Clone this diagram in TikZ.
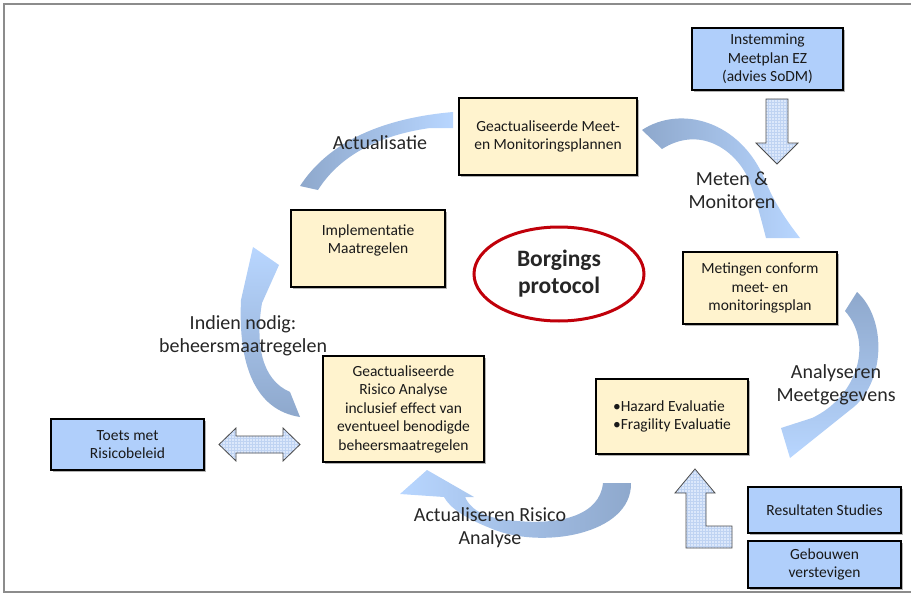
\documentclass[tikz,border=0pt]{standalone}
\usepackage{fontspec}
\setmainfont{Carlito}
\usepackage{tikz}
\usetikzlibrary{shapes}
\usetikzlibrary{shapes.geometric}
\usetikzlibrary{shadows}
\usetikzlibrary{patterns}

\definecolor{boxyellow}{HTML}{FFF3CE}
\definecolor{boxblue}{HTML}{B0CFFB}
\definecolor{arrowdark}{HTML}{8EA8CC}
\definecolor{arrowlight}{HTML}{B8D6FF}
\definecolor{blockfill}{HTML}{DCE8FB}
\definecolor{blockgrid}{HTML}{BFD3F2}
\definecolor{borgred}{HTML}{C0000A}
\definecolor{framegray}{HTML}{8C8C8C}

\tikzset{
  box/.style={draw, line width=2.6pt, align=center, inner sep=0pt,
    font=\fontsize{15.5}{18.5}\selectfont, text=black!90,
    drop shadow={shadow xshift=2pt, shadow yshift=-2pt, opacity=.6, fill=black!50}},
  yellowbox/.style={box, fill=boxyellow},
  bluebox/.style={box, fill=boxblue},
  steplabel/.style={align=center, text=black!85, font=\fontsize{20}{23}\selectfont},
  blockarrow/.style={draw=black!70, line width=0.8pt, preaction={fill=blockfill},
    pattern=grid, pattern color=blockgrid}
}

\begin{document}
\begin{tikzpicture}[x=1pt, y=-1pt]
\useasboundingbox (0,0) rectangle (911,594);
\draw[framegray, line width=2pt] (912,4) -- (4,4) -- (4,592) -- (912,592);

\shade[left color=arrowdark, right color=arrowlight]
  (300,186) .. controls (330,140) and (385,118) .. (453,112) -- (453,128) -- (430,128)
  .. controls (380,135) and (340,155) .. (318,190) -- cycle;
\shade[left color=arrowdark, right color=arrowlight]
  (642,130) .. controls (680,105) and (740,120) .. (765,180)
  .. controls (775,205) and (790,225) .. (800,238) -- (766,238)
  .. controls (760,215) and (755,195) .. (748,178)
  .. controls (735,150) and (700,125) .. (662,149) -- cycle;
\shade[top color=arrowdark, bottom color=arrowlight]
  (857,292) .. controls (888,320) and (885,385) .. (850,410) -- (790,458) -- (781,428)
  -- (812,418) .. controls (855,398) and (875,345) .. (845,311) -- cycle;
\shade[left color=arrowlight, right color=arrowdark]
  (631,483) .. controls (632,535) and (540,550) .. (490,528)
  .. controls (465,518) and (450,508) .. (444,497) -- (400,494) -- (427,470) -- (474,497)
  -- (465,497) .. controls (470,508) and (480,515) .. (500,519)
  .. controls (560,528) and (600,515) .. (603,483) -- cycle;
\shade[top color=arrowlight, bottom color=arrowdark]
  (300,417) .. controls (255,410) and (238,365) .. (241,300) -- (253,247) -- (279,265)
  -- (262,303) .. controls (255,345) and (262,380) .. (290,392) -- cycle;

\node[bluebox, minimum width=151, minimum height=62] (EZ) at (767.5,59)
  {Instemming\\Meetplan EZ\\(advies SoDM)};
\node[yellowbox, minimum width=178, minimum height=77] (Plan) at (548,136.5)
  {Geactualiseerde Meet-\\en Monitoringsplannen};
\node[yellowbox, minimum width=154, minimum height=77] (Impl) at (368,248.5)
  {Implementatie\\Maatregelen\\\mbox{}};
\node[ellipse, draw=borgred, line width=3pt, minimum width=170, minimum height=94,
  align=center, font=\fontsize{23.5}{27}\selectfont\bfseries, text=black!85] (Borg) at (559,274)
  {Borgings\\protocol};
\node[yellowbox, minimum width=154, minimum height=72] (Meting) at (760,288)
  {Metingen conform\\meet- en\\monitoringsplan};
\node[yellowbox, minimum width=152, minimum height=75, align=left] (Eval) at (672,416.5)
  {•Hazard Evaluatie\\•Fragility Evaluatie};
\node[yellowbox, minimum width=161, minimum height=106] (Risico) at (403.5,409)
  {Geactualiseerde\\Risico Analyse\\inclusief effect van\\eventueel benodigde\\beheersmaatregelen};
\node[bluebox, minimum width=153, minimum height=51] (Toets) at (127.5,444.5)
  {Toets met\\Risicobeleid};
\node[bluebox, minimum width=153, minimum height=46] (Studies) at (824.5,510)
  {Resultaten Studies};
\node[bluebox, minimum width=153, minimum height=47] (Gebouw) at (824.5,564.5)
  {Gebouwen\\verstevigen};

\draw[blockarrow] (766,99) -- (788,99) -- (788,143) -- (798,143) -- (777,164)
  -- (756,143) -- (766,143) -- cycle;
\draw[blockarrow] (219,444.5) -- (236,428) -- (236,436) -- (283,436) -- (283,428)
  -- (300,444.5) -- (283,461) -- (283,453) -- (236,453) -- (236,461) -- cycle;
\draw[blockarrow] (695,469) -- (715,493) -- (706,493) -- (706,526) -- (732,526)
  -- (732,548) -- (686,548) -- (686,493) -- (675,493) -- cycle;

\node[steplabel] (Act) at (380,143) {Actualisatie};
\node[steplabel] (Meten) at (732,190) {Meten \&\\Monitoren};
\node[steplabel] (Analyse) at (836,385) {Analyseren\\Meetgegevens};
\node[steplabel] (ActRisico) at (490,528) {Actualiseren Risico\\Analyse};
\node[steplabel] (Indien) at (243,336) {Indien nodig:\\beheersmaatregelen};
\end{tikzpicture}
\end{document}
